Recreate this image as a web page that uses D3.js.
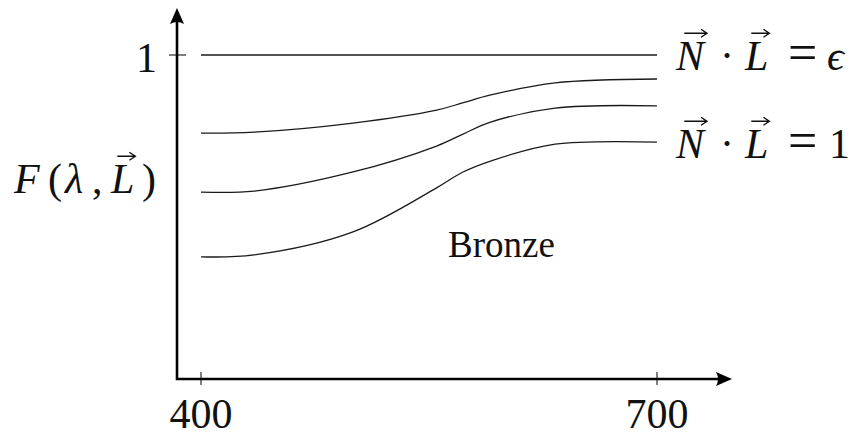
<!DOCTYPE html>
<html>
<head>
<meta charset="UTF-8">
<script src="https://d3js.org/d3.v7.min.js"></script>
</head>
<body style="margin:0">
<script>
    const width = 858, height = 436;
    const serif = '"Liberation Serif"';

    // wavelength samples (nm) and reflectance curves
    const lambdas = [400, 435, 500, 555, 572, 590, 633, 700];
    const flatLine = [1, 1, 1, 1, 1, 1, 1, 1];          // N.L = epsilon limit
    const curveTop = [0.759, 0.762, 0.790, 0.830, 0.852, 0.876, 0.914, 0.926];
    const curveMid = [0.577, 0.580, 0.639, 0.719, 0.755, 0.792, 0.836, 0.843];
    const curveLow = [0.377, 0.383, 0.454, 0.590, 0.638, 0.672, 0.725, 0.731];
    const xTicks = [400, 700];
    const yTicks = [1];

    const x = d3.scaleLinear().domain([400, 700]).range([201, 657]);
    const y = d3.scaleLinear().domain([0, 1]).range([379, 55]);

    const originX = 177, originY = 379;
    const xEnd = 732, yEnd = 8;

    const svg = d3.select("body").append("svg")
        .attr("width", width)
        .attr("height", height)
        .style("display", "block");

    // curves
    const line = d3.line()
        .x(d => x(d[0]))
        .y(d => y(d[1]))
        .curve(d3.curveCatmullRom.alpha(0.5));

    [flatLine, curveTop, curveMid, curveLow].forEach(vals => {
        svg.append("path")
            .datum(lambdas.map((l, i) => [l, vals[i]]))
            .attr("d", line)
            .attr("fill", "none")
            .attr("stroke", "#1a1a1a")
            .attr("stroke-width", 1.3);
    });

    // axes
    svg.append("path")
        .attr("d", `M${originX},${yEnd + 10}V${originY}H${xEnd - 10}`)
        .attr("fill", "none")
        .attr("stroke", "#000")
        .attr("stroke-width", 2.6);

    // LaTeX-like arrow heads
    function head(tx, ty, angle) {
        svg.append("path")
            .attr("d", "M0,0 L-16,-7 Q-12,0 -16,7 Z")
            .attr("transform", `translate(${tx},${ty}) rotate(${angle})`)
            .attr("fill", "#000");
    }
    head(xEnd, originY, 0);
    head(originX, yEnd, -90);

    // ticks crossing the axes
    svg.selectAll("line.xtick").data(xTicks).enter().append("line")
        .attr("class", "xtick")
        .attr("x1", d => x(d)).attr("x2", d => x(d))
        .attr("y1", originY - 7).attr("y2", originY + 6)
        .attr("stroke", "#000").attr("stroke-width", 1);
    svg.selectAll("line.ytick").data(yTicks).enter().append("line")
        .attr("class", "ytick")
        .attr("x1", originX - 8).attr("x2", originX + 9)
        .attr("y1", d => y(d)).attr("y2", d => y(d))
        .attr("stroke", "#000").attr("stroke-width", 1);

    svg.selectAll("text.xlab").data(xTicks).enter().append("text")
        .attr("class", "xlab")
        .attr("x", d => x(d)).attr("y", 428)
        .attr("text-anchor", "middle")
        .attr("font-size", 42)
        .attr("fill", "#111")
        .style("font-family", serif)
        .text(d => d);
    svg.selectAll("text.ylab").data(yTicks).enter().append("text")
        .attr("class", "ylab")
        .attr("x", 157).attr("y", d => y(d) + 17)
        .attr("text-anchor", "end")
        .attr("font-size", 42)
        .attr("fill", "#111")
        .style("font-family", serif)
        .text(d => d);

    // math labels: each piece placed at its own x, vectors get an arrow on top
    const arrows = [];
    function mathLabel(baseline, parts, fs) {
        parts.forEach(p => {
            const t = svg.append("text")
                .attr("x", p.x).attr("y", baseline)
                .attr("font-size", p.fs || fs)
                .attr("fill", "#111")
                .style("font-family", serif)
                .style("font-style", p.it ? "italic" : "normal")
                .text(p.t);
            if (p.vec) arrows.push({ node: t.node(), baseline, fs });
        });
    }

    mathLabel(70, [
        { t: "N", it: true, vec: true, x: 676 },
        { t: "·", x: 720 },
        { t: "L", it: true, vec: true, x: 745 },
        { t: "=", x: 788, fs: 52 },
        { t: "\u03F5", it: true, x: 827 }
    ], 42);

    mathLabel(158, [
        { t: "N", it: true, vec: true, x: 676 },
        { t: "·", x: 720 },
        { t: "L", it: true, vec: true, x: 745 },
        { t: "=", x: 788, fs: 52 },
        { t: "1", x: 829 }
    ], 42);

    mathLabel(193, [
        { t: "F", it: true, x: 14 },
        { t: "(", x: 48 },
        { t: "\u03BB", it: true, x: 65 },
        { t: ",", x: 92 },
        { t: "L", it: true, vec: true, x: 111 },
        { t: ")", x: 142 }
    ], 42);

    svg.append("text")
        .attr("x", 448).attr("y", 257)
        .attr("font-size", 37)
        .attr("fill", "#111")
        .style("font-family", serif)
        .text("Bronze");

    // vector arrows, placed after all text exists
    arrows.forEach(a => {
        const bb = a.node.getBBox();
        const x0 = bb.x + bb.width * 0.3, x1 = bb.x + bb.width + 1;
        const ay = a.baseline - a.fs * 0.66 - 9;
        svg.append("path")
            .attr("d", `M${x0},${ay}H${x1} M${x1 - 6},${ay - 4} L${x1},${ay} L${x1 - 6},${ay + 4}`)
            .attr("fill", "none")
            .attr("stroke", "#111")
            .attr("stroke-width", 1.4);
    });
</script>
</body>
</html>
